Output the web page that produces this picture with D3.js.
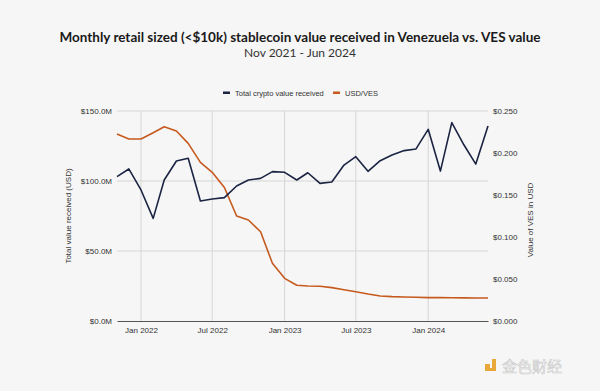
<!DOCTYPE html>
<html><head><meta charset="utf-8">
<script src="https://cdn.jsdelivr.net/npm/d3@7"></script>
<style>
html,body{margin:0;padding:0;background:#f6f6f6;}
svg{display:block;}
</style></head>
<body>
<svg id="chart" width="600" height="391"></svg>
<script>
const months = ["2021-11","2021-12","2022-01","2022-02","2022-03","2022-04","2022-05","2022-06","2022-07","2022-08","2022-09","2022-10","2022-11","2022-12","2023-01","2023-02","2023-03","2023-04","2023-05","2023-06","2023-07","2023-08","2023-09","2023-10","2023-11","2023-12","2024-01","2024-02","2024-03","2024-04","2024-05","2024-06"];
const cryptoValue = [103.1,108.6,93.6,73.3,100.7,114.3,116.2,85.7,87.1,88.1,96.4,100.7,101.9,106.7,106.2,100.7,105.9,98.3,99.3,111.4,117.4,106.9,114.5,118.6,121.7,122.9,136.9,107.1,141.7,125.7,112.1,139.3];
const usdVes = [0.2226,0.2167,0.2167,0.2242,0.2313,0.2262,0.2115,0.1889,0.177,0.159,0.125,0.1202,0.1063,0.0687,0.0508,0.0425,0.0417,0.0413,0.0397,0.0373,0.0349,0.0321,0.0298,0.029,0.0286,0.0282,0.0278,0.0278,0.0276,0.0275,0.0274,0.0274];
const leftTicks = [0,50,100,150];
const rightTicks = [0,0.05,0.1,0.15,0.2,0.25];
const xTickDates = ["2022-01","2022-07","2023-01","2023-07","2024-01"];
const seriesNames = ["Total crypto value received","USD/VES"];
const colors = ["#1b2442","#c65a1e"];

const parse = d3.timeParse("%Y-%m");
const dates = months.map(parse);
const svg = d3.select("#chart");
const m = {l:117, r:488, t:111, b:321};

const x = d3.scaleTime().domain([dates[0], dates[dates.length-1]]).range([m.l, m.r]);
const yL = d3.scaleLinear().domain([0,150]).range([m.b, m.t]);
const yR = d3.scaleLinear().domain([0,0.25]).range([m.b, m.t]);

svg.append("rect").attr("width",600).attr("height",391).attr("fill","#f6f6f6");

// title
svg.append("text").attr("x",300).attr("y",42).attr("text-anchor","middle")
  .attr("font-family","Lato, sans-serif").attr("font-weight","bold").attr("font-size",13.5)
  .attr("fill","#1a1a1a").attr("textLength",481).attr("lengthAdjust","spacingAndGlyphs")
  .text("Monthly retail sized (<$10k) stablecoin value received in Venezuela vs. VES value");
svg.append("text").attr("x",300).attr("y",57).attr("text-anchor","middle")
  .attr("font-family","Lato, sans-serif").attr("font-size",12).attr("fill","#333")
  .text("Nov 2021 - Jun 2024");

// gridlines
svg.append("g").selectAll("line").data(leftTicks.slice(1)).join("line")
  .attr("x1",m.l).attr("x2",m.r).attr("y1",d=>yL(d)).attr("y2",d=>yL(d))
  .attr("stroke","#d6d6d6").attr("stroke-width",1);
svg.append("g").selectAll("line").data(xTickDates.map(parse)).join("line")
  .attr("x1",d=>x(d)).attr("x2",d=>x(d)).attr("y1",m.t).attr("y2",m.b)
  .attr("stroke","#d6d6d6").attr("stroke-width",1);

// axes
const fmtL = d => "$" + d3.format(".1f")(d) + "M";
const fmtR = d => "$" + d3.format(".3f")(d);
const axL = svg.append("g").attr("transform",`translate(${m.l},0)`)
  .call(d3.axisLeft(yL).tickValues(leftTicks).tickFormat(fmtL).tickSize(0).tickPadding(5));
const axR = svg.append("g").attr("transform",`translate(${m.r},0)`)
  .call(d3.axisRight(yR).tickValues(rightTicks).tickFormat(fmtR).tickSize(0).tickPadding(5));
const axX = svg.append("g").attr("transform",`translate(0,${m.b})`)
  .call(d3.axisBottom(x).tickValues(xTickDates.map(parse)).tickFormat(d3.timeFormat("%b %Y")).tickSize(0).tickPadding(6));
[axL,axR].forEach(a=>a.select(".domain").remove());
axX.select(".domain").attr("stroke","#555").attr("stroke-width",1.2);
[axL,axR,axX].forEach(a=>a.selectAll("text").attr("font-family","Liberation Sans, Arial, sans-serif").attr("font-size",8).attr("fill","#333"));

// axis titles
svg.append("text").attr("transform","translate(71,216) rotate(-90)").attr("text-anchor","middle")
  .attr("font-family","Liberation Sans, Arial, sans-serif").attr("font-size",8).attr("fill","#333")
  .text("Total value received (USD)");
svg.append("text").attr("transform","translate(533,220) rotate(-90)").attr("text-anchor","middle")
  .attr("font-family","Liberation Sans, Arial, sans-serif").attr("font-size",8).attr("fill","#333")
  .text("Value of VES in USD");

// lines
const lineL = d3.line().x((d,i)=>x(dates[i])).y(d=>yL(d));
const lineR = d3.line().x((d,i)=>x(dates[i])).y(d=>yR(d));
svg.append("path").datum(usdVes).attr("d",lineR).attr("fill","none").attr("stroke",colors[1]).attr("stroke-width",1.6).attr("stroke-linejoin","round");
svg.append("path").datum(cryptoValue).attr("d",lineL).attr("fill","none").attr("stroke",colors[0]).attr("stroke-width",1.6).attr("stroke-linejoin","round");

// legend
const lg = svg.append("g").attr("font-family","Liberation Sans, Arial, sans-serif").attr("font-size",7.5).attr("fill","#333");
const legX = [223, 333];
seriesNames.forEach((n,i)=>{
  lg.append("rect").attr("x",legX[i]).attr("y",91.5).attr("width",7).attr("height",2.5).attr("fill",colors[i]);
  lg.append("text").attr("x",legX[i]+12).attr("y",95.5).text(n);
});

// watermark
const wm = svg.append("g");
wm.append("rect").attr("x",485).attr("y",364).attr("width",5).attr("height",4).attr("fill","#e8a93a");
wm.append("path").attr("d","M492,359 h4 v12 h-11 v-3 h7 z").attr("fill","#e8a93a");
wm.append("text").attr("x",502).attr("y",372).attr("font-family","Noto Sans CJK SC, sans-serif").attr("font-size",15)
  .attr("fill","#ffffff").attr("stroke","#c8c8c8").attr("stroke-width",0.6).text("金色财经");
</script>
</body></html>
